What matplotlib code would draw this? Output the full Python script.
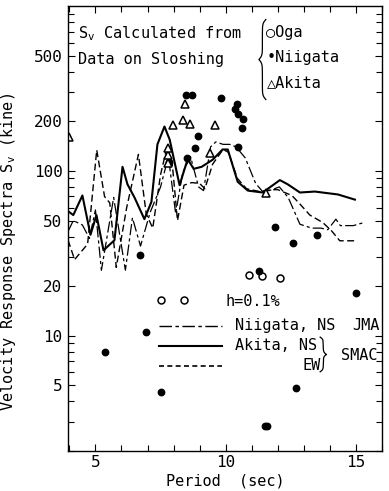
import numpy as np
import matplotlib
matplotlib.use('Agg')
import matplotlib.pyplot as plt

plt.rcParams['font.family'] = ['DejaVu Sans Mono', 'DejaVu Sans']
plt.rcParams['font.size'] = 11

# Akita NS (SMAC) - solid
akita_ns_T = [3.95, 4.15, 4.5, 4.81, 5.04, 5.31, 5.73, 6.04, 6.23, 6.5, 6.88, 7.15, 7.38,
              7.65, 7.85, 8.23, 8.54, 8.77, 9.08, 9.5, 9.88, 10.08, 10.46, 10.85, 11.42,
              12.08, 12.38, 12.85, 13.42, 14.31, 14.96]
akita_ns_S = [57, 54, 71, 41, 54, 33, 38, 106, 83, 69, 51, 65, 145,
              186, 155, 82, 118, 103, 106, 117, 135, 135, 86, 76, 74,
              88, 83, 74, 75, 72, 67]

# Akita EW (SMAC) - dashed
akita_ew_T = [3.95, 4.2, 4.7, 5.05, 5.35, 5.55, 5.8, 6.2, 6.65, 6.95, 7.2, 7.5, 7.75, 7.95,
              8.15, 8.4, 8.7, 9.0, 9.2, 9.5, 9.9, 10.1, 10.45, 10.8, 11.3, 11.8, 12.0,
              12.54, 12.85, 13.23, 13.73, 14.06, 14.38, 14.96]
akita_ew_S = [38, 29, 36, 134, 70, 64, 26, 60, 126, 55, 45, 95, 140, 110,
              50, 82, 85, 84, 78, 110, 135, 130, 90, 78, 75, 77, 77,
              71, 63, 54, 48.6, 43.4, 37.7, 37.7]

# Niigata NS (JMA) - dash-dot
niigata_T = [3.95, 4.15, 4.5, 4.77, 5.0, 5.23, 5.7, 6.15, 6.42, 6.73, 7.1, 7.5, 7.8, 8.08,
             8.35, 8.65, 8.96, 9.15, 9.42, 9.62, 9.9, 10.15, 10.4, 10.75, 11.15, 11.45,
             11.87, 12.06, 12.4, 12.85, 13.3, 13.65, 13.92, 14.23, 14.4, 14.9, 15.3]
niigata_S = [43, 50, 47, 39, 58, 25, 69, 25, 52, 35, 56, 80, 122, 55,
             98, 122, 80, 76, 140, 150, 145, 145, 140, 120, 84, 74,
             78, 80, 69, 47.5, 45, 45, 44, 51, 46.6, 46.6, 48.6]

# sloshing data
oga_T = [7.5, 8.39, 10.88, 11.38, 12.08]
oga_S = [16.6, 16.4, 23.3, 22.9, 22.3]

niigata_pts_T = [5.35, 6.95, 6.72, 7.51, 11.27, 11.88, 12.6, 13.52, 14.99, 12.68, 11.5, 11.6,
                 8.46, 8.69, 9.83, 10.45, 10.35, 10.47, 10.66, 10.62, 8.92, 8.81, 10.47,
                 8.5, 7.81]
niigata_pts_S = [8.0, 10.6, 30.8, 4.55, 24.6, 45.7, 36.3, 41.0, 18.2, 4.8, 2.82, 2.85,
                 288, 288, 278, 256, 239, 223, 207, 182, 164, 137, 140,
                 120, 114]

akita_pts_T = [4.0, 7.78, 7.78, 7.8, 7.97, 8.36, 8.42, 8.64, 9.4, 9.59, 11.55]
akita_pts_S = [160, 112, 125, 137, 191, 203, 255, 193, 128, 191, 74]

x_major = [5, 10, 15]
x_minor = [4, 6, 7, 8, 9, 11, 12, 13, 14, 16]
y_major = [5, 10, 20, 50, 100, 200, 500]
y_minor = [2, 3, 4, 6, 7, 8, 9, 30, 40, 60, 70, 80, 90, 300, 400, 600, 700, 800, 900]


def brace(ax, x, y0, y1, w, k=40):
    # curly brace in axes coords; w>0 opens right ('{'), w<0 opens left ('}')
    u = np.linspace(0, 0.5, 200)
    f = 1 / (1 + np.exp(-k * u)) + 1 / (1 + np.exp(-k * (u - 0.5))) - 0.5
    xs = np.concatenate([x + w * (1 - f), x + w * (1 - f[::-1])])
    ys = np.concatenate([y0 + (y1 - y0) * u, y0 + (y1 - y0) * (u + 0.5)])
    ax.plot(xs, ys, color='black', lw=0.9, transform=ax.transAxes, clip_on=False)


fig = plt.figure(figsize=(3.89, 4.91), dpi=100)
ax = fig.add_axes([0.175, 0.0815, 0.807, 0.906])

ax.plot(niigata_T, niigata_S, color='black', lw=0.9, ls=(0, (9, 2.5, 2.5, 2.5)))
ax.plot(akita_ns_T, akita_ns_S, color='black', lw=1.5)
ax.plot(akita_ew_T, akita_ew_S, color='black', lw=1.0, ls=(0, (5, 2.5)))

ax.plot(oga_T, oga_S, 'o', ms=5, mfc='white', mec='black', mew=1.1)
ax.plot(niigata_pts_T, niigata_pts_S, 'o', ms=4.6, color='black')
ax.plot(akita_pts_T, akita_pts_S, '^', ms=6, mfc='white', mec='black', mew=1.1)

ax.set_yscale('log')
ax.set_xlim(3.95, 16.0)
ax.set_ylim(2, 1000)

ax.set_xticks(x_major)
ax.set_xticks(x_minor, minor=True)
ax.set_xticklabels([str(v) for v in x_major])
ax.set_yticks(y_major)
ax.set_yticks(y_minor, minor=True)
ax.set_yticklabels([str(v) for v in y_major])
ax.tick_params(which='both', direction='in', top=True, right=True, width=0.8)
ax.tick_params(which='major', length=5, labelsize=11.5)
ax.tick_params(which='minor', length=4, labelleft=False, labelbottom=False)
ax.tick_params(axis='y', pad=4)
ax.tick_params(axis='x', pad=3)
for s in ax.spines.values():
    s.set_linewidth(1.0)

ax.set_xlabel('Period  (sec)', fontsize=11)
ax.xaxis.set_label_coords(0.5, -0.051)
ax.set_ylabel('Velocity Response Spectra S$_\\mathregular{v}$ (kine)', fontsize=11)
ax.yaxis.set_label_coords(-0.16, 0.447)

# upper annotation
ax.text(0.032, 0.939, 'S$_\\mathregular{v}$ Calculated from', transform=ax.transAxes,
        va='center', ha='left', fontsize=11)
ax.text(0.032, 0.879, 'Data on Sloshing', transform=ax.transAxes,
        va='center', ha='left', fontsize=11)
brace(ax, 0.608, 0.79, 0.97, 0.022)
ax.text(0.632, 0.940, '\u25cbOga', transform=ax.transAxes, va='center', ha='left', fontsize=11)
ax.text(0.632, 0.885, '\u2022Niigata', transform=ax.transAxes, va='center', ha='left', fontsize=11)
ax.text(0.632, 0.829, '\u25b3Akita', transform=ax.transAxes, va='center', ha='left', fontsize=11)

# line legend
ax.text(0.503, 0.335, 'h=0.1%', transform=ax.transAxes, va='center', ha='left', fontsize=11)
ax.plot([0.29, 0.49], [0.281, 0.281], transform=ax.transAxes, color='black', lw=1.0,
        ls=(0, (9, 2.5, 2.5, 2.5)))
ax.plot([0.29, 0.49], [0.237, 0.237], transform=ax.transAxes, color='black', lw=1.5)
ax.plot([0.29, 0.49], [0.192, 0.192], transform=ax.transAxes, color='black', lw=1.2,
        ls=(0, (3, 2)))
ax.text(0.532, 0.281, 'Niigata, NS', transform=ax.transAxes, va='center', ha='left', fontsize=11)
ax.text(0.905, 0.281, 'JMA', transform=ax.transAxes, va='center', ha='left', fontsize=11,
        bbox=dict(facecolor='white', edgecolor='none', pad=0.5))
ax.text(0.532, 0.237, 'Akita, NS', transform=ax.transAxes, va='center', ha='left', fontsize=11)
ax.text(0.748, 0.192, 'EW', transform=ax.transAxes, va='center', ha='left', fontsize=11)
brace(ax, 0.823, 0.178, 0.256, -0.02, k=30)
ax.text(0.868, 0.215, 'SMAC', transform=ax.transAxes, va='center', ha='left', fontsize=11)

fig.savefig('out.png', dpi=100)
